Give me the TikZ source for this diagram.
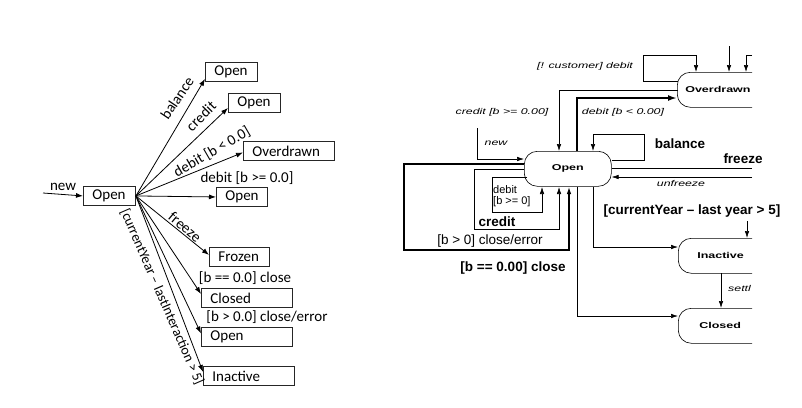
\documentclass[tikz,border=0pt]{standalone}
\usepackage{fontspec}
\setmainfont{Liberation Sans}
\newfontfamily\carl{Carlito}
\usetikzlibrary{arrows.meta}
\newcommand{\sx}[1]{\scalebox{1.47}[1]{#1}}
\begin{document}
\begin{tikzpicture}[x=1pt,y=-1pt,
  lbox/.style={draw=black!85, line width=0.9pt, inner xsep=9pt, inner ysep=0pt, minimum height=19pt, anchor=north west, align=left, font=\carl\fontsize{15}{15}\selectfont},
  lab/.style={font=\carl\fontsize{15}{15}\selectfont, inner sep=0pt},
  ledge/.style={line width=0.8pt, -{Latex[length=7pt,width=5pt]}},
  rbox/.style={draw, line width=0.6pt, rounded corners=13pt, anchor=north west, minimum height=35pt, align=left, font=\bfseries\fontsize{8.5}{10}\selectfont},
  redge/.style={line width=0.6pt, -{Latex[length=7pt,width=4.5pt]}},
  rline/.style={line width=0.6pt},
  small/.style={font=\itshape\fontsize{8.4}{10}\selectfont, inner sep=0pt},
  big/.style={font=\bfseries\fontsize{13.5}{15}\selectfont, inner sep=0pt},
  reg/.style={font=\fontsize{13.5}{15}\selectfont, inner sep=0pt},
  regs/.style={font=\fontsize{11}{12}\selectfont, inner sep=0pt, anchor=west},
]
\useasboundingbox (0,0) rectangle (802,407);

% ---------------- left diagram ----------------
\node[lbox, text width=34pt] (o0) at (83,186) {Open};
\node[lbox, text width=34pt] (o1) at (205,62) {Open};
\node[lbox, text width=34pt] (o2) at (228,93) {Open};
\node[lbox, text width=73pt] (ov) at (243,141) {Overdrawn};
\node[lbox, text width=33pt] (o3) at (216,187) {Open};
\node[lbox, text width=42pt] (fr) at (209,247) {Frozen};
\node[lbox, text width=73pt] (cl) at (201,288) {Closed};
\node[lbox, text width=73pt] (o4) at (201,327) {Open};
\node[lbox, text width=73pt] (in) at (203,366) {Inactive};

\coordinate (nstart) at (43,193);
\draw[ledge] (nstart) -- (o0.west);
\node[lab] (lnew) at (63,187) {new};

\draw[ledge] (o0.east) -- ([yshift=3pt]o1.south west);
\draw[ledge] (o0.east) -- ([yshift=5pt]o2.south west);
\draw[ledge] (o0.east) -- ([yshift=-1.5pt]ov.west);
\draw[ledge] (o0.east) -- (o3.west);
\draw[ledge] (o0.east) -- ([yshift=2pt]fr.west);
\draw[ledge] (o0.east) -- ([yshift=4pt]cl.west);
\draw[ledge] (o0.east) -- ([yshift=3.5pt]o4.west);
\draw[ledge] (o0.east) -- ([yshift=4pt]in.west);

\node[lab, rotate=56] (lbal) at (177,98) {balance};
\node[lab, rotate=45] (lcre) at (201,116) {credit};
\node[lab, rotate=30] (ldeb) at (212,152) {debit [b < 0.0]};
\node[lab] (ldeb2) at (247,178) {debit [b >= 0.0]};
\node[lab, rotate=-40] (lfre) at (185,227) {freeze};
\node[lab] (lclo) at (245,278) {[b == 0.0] close};
\node[lab] (lerr) at (267,317) {[b > 0.0] close/error};
\node[lab, rotate=-66.5, font=\carl\fontsize{14}{14}\selectfont] (lina) at (162,297) {[currentYear – lastInteraction > 5]};

% ---------------- right diagram ----------------
\begin{scope}
\clip (400,0) rectangle (752,407);
\node[rbox, inner xsep=8pt, text width=107pt] (rov) at (677,72) {\sx{Overdrawn}};
\node[rbox, inner xsep=6pt, text width=75pt, align=center] (rop) at (524,151) {\sx{Open}};
\node[rbox, inner xsep=19pt, text width=85pt] (rin) at (678,238) {\sx{Inactive}};
\node[rbox, inner xsep=21pt, text width=81pt] (rcl) at (678,308) {\sx{Closed}};

% top arrows into Overdrawn
\coordinate (t1) at (729,46);
\draw[redge] (t1) -- (t1 |- rov.north);
\coordinate (t2) at (752,55);
\draw[redge] (t2) -- (746,55) -- (746,72);
% self loop on Overdrawn
\draw[redge] (678,81) -- (643,81) -- (643,55) -- (696,55) -- (696 ,72);
% credit [b >= 0.00]
\draw[redge] (678,90) -- (559,90) -- (559,151);
% debit [b < 0.00] thick
\draw[line width=2.4pt, -{Latex[length=9pt,width=6pt]}] (577,151) -- (577,98) -- (rov.west |- 0,98);
% new
\coordinate (rnew) at (477,128);
\draw[redge] (rnew) -- (477,159) -- (rop.west |- 0,159);
% balance loop
\draw[redge] (rop.east |- 0,160) -- (644,160) -- (644,134) -- (593,134) -- (593,151);
% freeze / unfreeze
\coordinate (fz) at (752,168);
\draw[rline] (rop.east |- 0,168) -- (fz);
\coordinate (ufz) at (752,177);
\draw[redge] (ufz) -- (rop.east |- 0,177);
% [b > 0] close/error outer loop
\draw[line width=1.1pt, -{Latex[length=7pt,width=4.5pt]}] (rop.west |- 0,164) -- (404,164) -- (404,250) -- (569,250) -- (569,187);
% credit loop
\draw[redge] (rop.west |- 0,169) -- (474,169) -- (474,229) -- (559,229) -- (559,187);
% debit loop
\draw[redge] (527,177) -- (492,177) -- (492,212) -- (542,212) -- (542,187);
% to Inactive and Closed
\draw[redge] (593,187) -- (593,247) -- (rin.west |- 0,247);
\draw[redge] (577,187) -- (577,316) -- (rcl.west |- 0,316);
% into Inactive from above
\coordinate (cy) at (747,221);
\draw[redge] (cy) -- (747,238);
% Inactive -> Closed
\draw[redge] (721,273) -- (721,308);
\end{scope}

\node[small] (rl1) at (585,66) {\sx{[! customer] debit}};
\node[small] (rl2) at (502,112) {\sx{credit [b >= 0.00]}};
\node[small] (rl3) at (623,112) {\sx{debit [b < 0.00]}};
\node[small] (rl4) at (496,143) {\sx{new}};
\node[small] (rl5) at (681,183) {\sx{unfreeze}};
\node[small, anchor=west] (rl6) at (728,288) {\sx{settl}};

\node[big] (rb1) at (680,144) {balance};
\node[big] (rb2) at (743,159) {freeze};
\node[big] (rb3) at (692,211) {[currentYear – last year > 5]};
\node[big] (rb4) at (497,222) {credit};
\node[big] (rb5) at (513,268) {[b == 0.00] close};
\node[reg] (rr1) at (490,241) {[b > 0] close/error};
\node[regs] (rd1) at (493,190) {debit};
\node[regs] (rd2) at (493,202) {[b >= 0]};
\end{tikzpicture}
\end{document}
